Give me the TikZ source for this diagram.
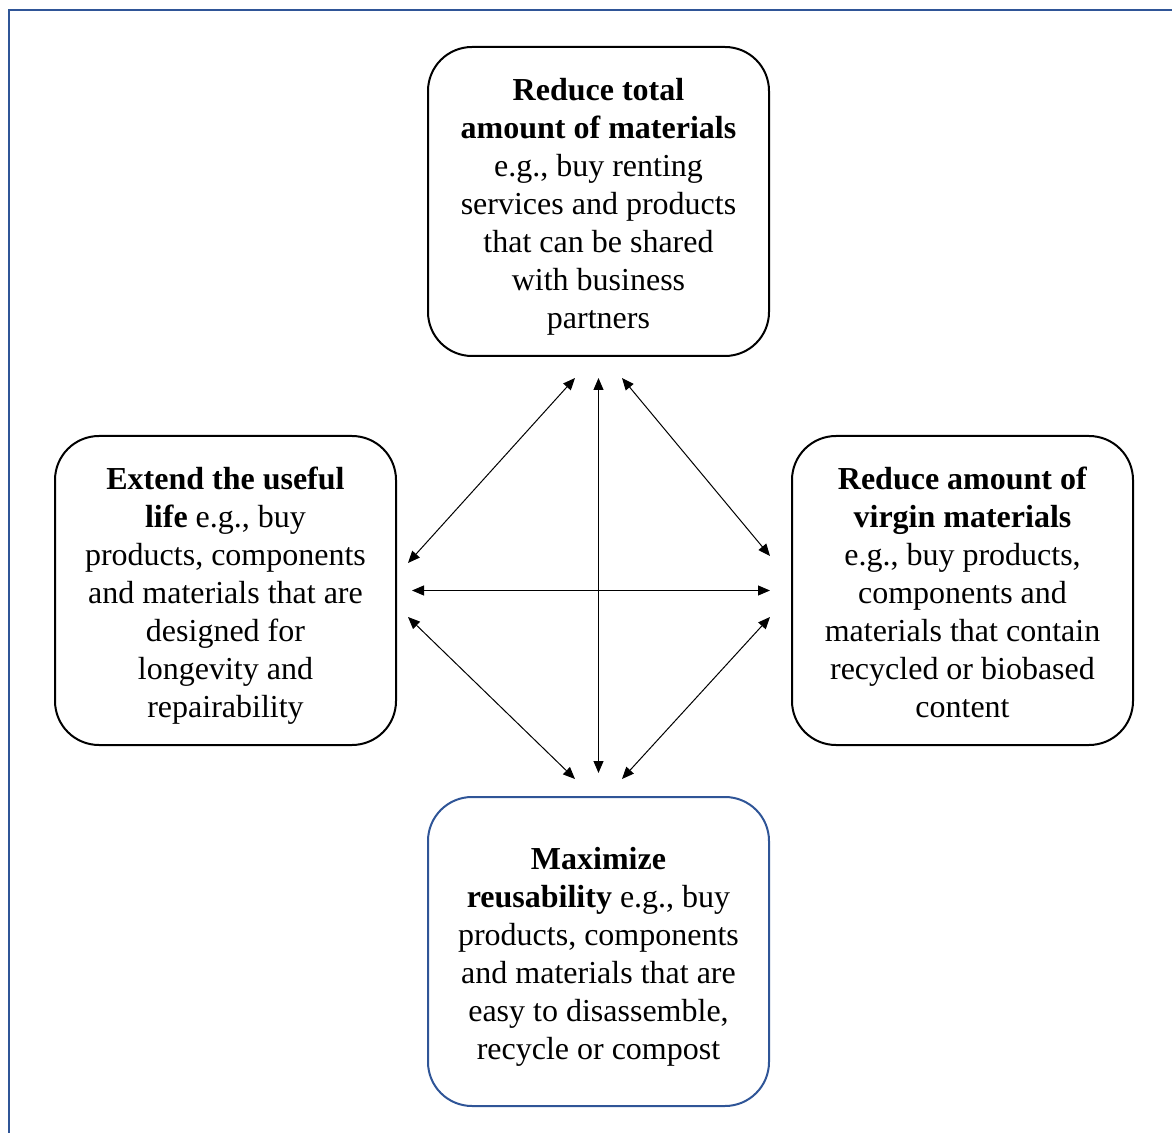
\documentclass[tikz,border=0pt]{standalone}
\usepackage{fontspec}
\setmainfont{Liberation Serif}
\usepackage{tikz}
\usetikzlibrary{arrows.meta,positioning}
\definecolor{frameblue}{RGB}{47,85,151}
\newcommand{\boxstrut}{\rule{0pt}{16.5pt}}
\newcommand{\boxdepth}{\rule[-3.6pt]{0pt}{3.6pt}}

\begin{document}
\begin{tikzpicture}[<->,>={Triangle[length=6pt,width=5pt]},line width=0.5pt,
  box/.style={draw,-,line width=1pt,rounded corners=22pt,minimum width=170.5pt,minimum height=154.5pt,
    align=center,inner sep=0pt,outer sep=0pt,font=\fontsize{16pt}{19pt}\selectfont}]
  \useasboundingbox (0,0) rectangle (586pt,-566.5pt);
  \draw[-,frameblue,line width=1.4pt] (4.5pt,-566.5pt) -- (4.5pt,-5pt) -- (586pt,-5pt);

  \node [box] (reduce) at (299.25pt,-100.75pt) {\boxstrut\textbf{Reduce total}\\ \textbf{amount of materials}\\ e.g., buy renting\\ services and products\\ that can be shared\\ with business\\ partners\boxdepth};
  \node [box,below left=40pt and 16pt of reduce.south west,anchor=north east] (extend) {\boxstrut\textbf{Extend the useful}\\ \textbf{life} e.g., buy\\ products, components\\ and materials that are\\ designed for\\ longevity and\\ repairability\boxdepth};
  \node [box,below right=40pt and 11.5pt of reduce.south east,anchor=north west] (virgin) {\boxstrut\textbf{Reduce amount of}\\ \textbf{virgin materials}\\ e.g., buy products,\\ components and\\ materials that contain\\ recycled or biobased\\ content\boxdepth};
  \node [box,draw=frameblue,below=220.5pt of reduce.south,anchor=north] (reuse) {\boxstrut\textbf{Maximize}\\ \textbf{reusability} e.g., buy\\ products, components\\ and materials that are\\ easy to disassemble,\\ recycle or compost\boxdepth};

  \draw[shorten <=11pt,shorten >=12pt] (reduce.south) -- (reuse.north);
  \draw[shorten <=8pt,shorten >=11pt] (extend.east) -- (virgin.west);

  \draw ([shift={(-11.75pt,-11pt)}]reduce.south) -- ([shift={(6pt,13.75pt)}]extend.east);
  \draw ([shift={(11.75pt,-11pt)}]reduce.south) -- ([shift={(-11pt,17.25pt)}]virgin.west);
  \draw ([shift={(6pt,-13.25pt)}]extend.east) -- ([shift={(-11.75pt,9pt)}]reuse.north);
  \draw ([shift={(-11pt,-13.25pt)}]virgin.west) -- ([shift={(11.75pt,9pt)}]reuse.north);

\end{tikzpicture}
\end{document}
